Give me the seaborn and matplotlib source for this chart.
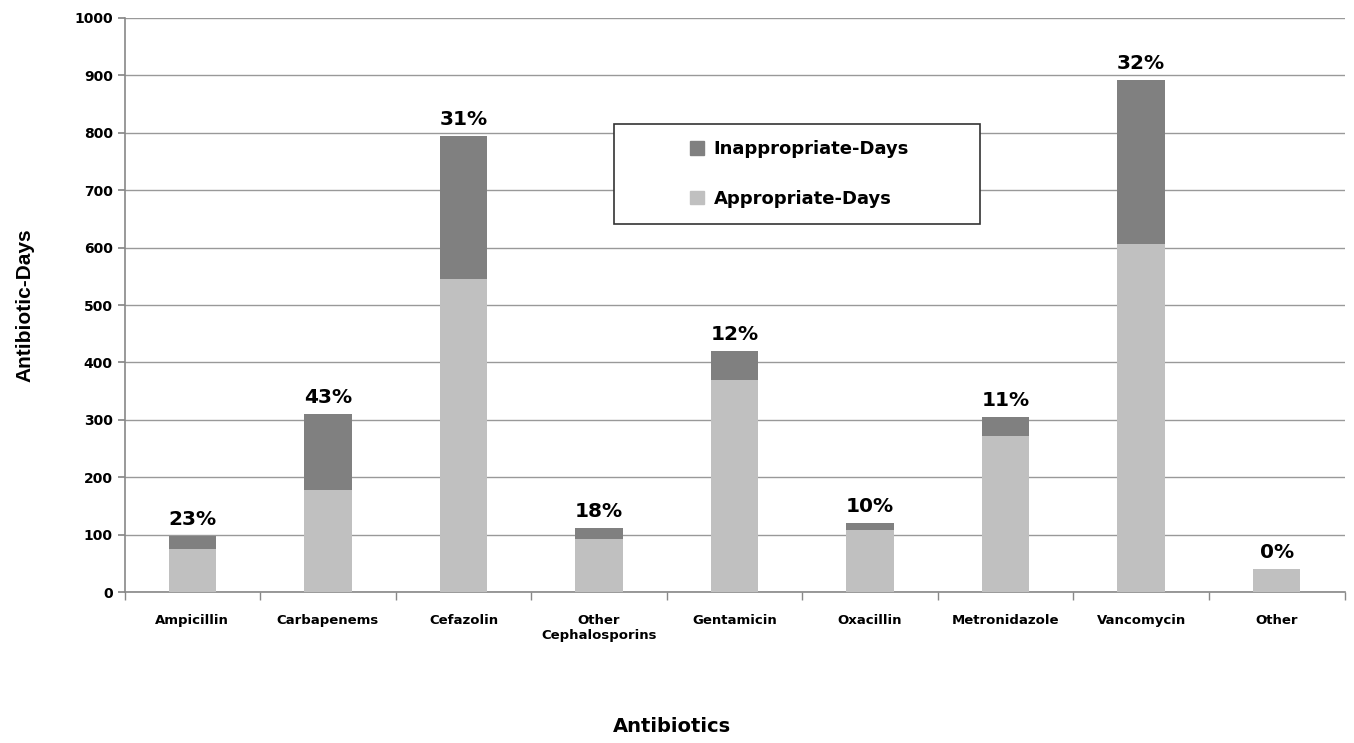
import matplotlib
matplotlib.use("Agg")
import matplotlib.pyplot as plt
import seaborn as sns
import pandas as pd
import numpy as np
from matplotlib.patches import Patch, Rectangle

categories = ["Ampicillin", "Carbapenems", "Cefazolin", "Other\nCephalosporins",
              "Gentamicin", "Oxacillin", "Metronidazole", "Vancomycin", "Other"]
appropriate_days = [75, 177, 545, 92, 370, 108, 272, 606, 40]
total_days = [97, 310, 795, 112, 420, 120, 305, 892, 40]
pct_labels = ["23%", "43%", "31%", "18%", "12%", "10%", "11%", "32%", "0%"]

df = pd.DataFrame({"cat": categories, "appr": appropriate_days, "total": total_days})

sns.set_theme(style="white")
plt.rcParams['font.family'] = ['DejaVu Sans']
plt.rcParams['text.color'] = 'black'
plt.rcParams['xtick.color'] = 'black'
plt.rcParams['ytick.color'] = 'black'

W, H = 1354, 743
fig = plt.figure(figsize=(W / 100, H / 100), dpi=100)
ax = fig.add_axes([0.092, 0.2032, 0.901, 0.7726])

dark = "#808080"
light = "#c0c0c0"
sns.barplot(data=df, x="cat", y="total", color=dark, width=0.35, ax=ax,
            saturation=1, linewidth=0, zorder=3)
sns.barplot(data=df, x="cat", y="appr", color=light, width=0.35, ax=ax,
            saturation=1, linewidth=0, zorder=4)

ax.set_ylim(0, 1000)
ax.set_xlim(-0.5, len(categories) - 0.5)
ax.set_yticks(np.arange(0, 1001, 100))
ax.yaxis.grid(True, color="#999999", linewidth=1, zorder=0)
ax.set_axisbelow(True)

for s in ["top", "right"]:
    ax.spines[s].set_visible(False)
for s in ["left", "bottom"]:
    ax.spines[s].set_color("#888888")
    ax.spines[s].set_linewidth(1.2)

ax.tick_params(axis="y", which="major", left=True, length=5, color="#888888",
               labelsize=10, labelcolor="black")
for lab in ax.get_yticklabels():
    lab.set_fontweight("bold")
ax.set_xticks(range(len(categories)))
ax.set_xticklabels(categories, fontsize=9.5, fontweight="bold")
ax.tick_params(axis="x", which="major", length=0, pad=16, labelcolor="black")
ax.set_xticks(np.arange(-0.5, len(categories), 1.0), minor=True)
ax.tick_params(axis="x", which="minor", bottom=True, length=6, color="#888888")

for i, (t, p) in enumerate(zip(total_days, pct_labels)):
    ax.text(i, t + 12, p, ha="center", va="bottom", fontsize=14.5,
            fontweight="bold", color="black")

ax.set_ylabel("")
ax.set_xlabel("")
fig.text(25 / W, 1 - 305 / H, "Antibiotic-Days", rotation=90, ha="center",
         va="center", fontsize=15, family="Liberation Sans", fontweight="bold")
fig.text(672 / W, 1 - 727 / H, "Antibiotics", ha="center", va="center",
         fontsize=14, fontweight="bold")

# legend frame
fig.patches.append(Rectangle((614 / W, 1 - 224 / H), (980 - 614) / W, 100 / H,
                             transform=fig.transFigure, facecolor="white",
                             edgecolor="#333333", linewidth=1.2, zorder=5))
handles = [Patch(color=dark, label="Inappropriate-Days"),
           Patch(color=light, label="Appropriate-Days")]
leg = fig.legend(handles=handles, loc="center left",
                 bbox_to_anchor=(690 / W, 1 - 174 / H),
                 frameon=False, fontsize=13, handlelength=0.8,
                 handleheight=0.8, labelspacing=1.75, borderpad=0,
                 handletextpad=0.5, borderaxespad=0)
leg.set_zorder(6)
for t in leg.get_texts():
    t.set_fontweight("bold")
    t.set_color("black")

fig.savefig("out.png", dpi=100)
